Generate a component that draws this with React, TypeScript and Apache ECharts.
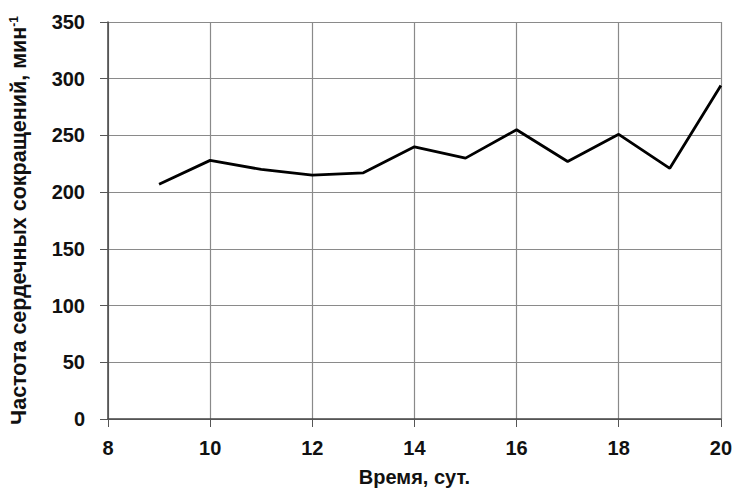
import React, { useEffect, useRef } from "react";
import * as echarts from "echarts";

// Heart rate over time (days)
const days = [9, 10, 11, 12, 13, 14, 15, 16, 17, 18, 19, 20];
const heartRate = [207, 228, 220, 215, 217, 240, 230, 255, 227, 251, 221, 294];

const xTitle = "Время, сут.";
const yTitle = "Частота сердечных сокращений, мин{sup|-1}";

const FONT = "'Liberation Sans', Arial, sans-serif";

export default function App() {
  const ref = useRef<HTMLDivElement>(null);

  useEffect(() => {
    if (!ref.current) return;
    const chart = echarts.init(ref.current, undefined, { renderer: "svg" });
    chart.setOption({
      animation: false,
      backgroundColor: "#ffffff",
      grid: { left: 108, right: 14, top: 22, bottom: 73, containLabel: false },
      xAxis: {
        type: "value",
        min: 8,
        max: 20,
        interval: 2,
        name: xTitle,
        nameLocation: "middle",
        nameGap: 48,
        nameTextStyle: { fontFamily: FONT, fontSize: 20, fontWeight: "bold", color: "#111" },
        axisLine: { show: true, lineStyle: { color: "#444", width: 1.5 } },
        axisTick: { show: true, inside: false, length: 8, lineStyle: { color: "#555" } },
        axisLabel: { fontFamily: FONT, fontSize: 20, fontWeight: "bold", color: "#111", margin: 19 },
        splitLine: { show: true, lineStyle: { color: "#8a8a8a", width: 1.2 } },
      },
      yAxis: {
        type: "value",
        min: 0,
        max: 350,
        interval: 50,
        name: yTitle,
        nameLocation: "middle",
        nameRotate: 90,
        nameGap: 78,
        nameTextStyle: {
          fontFamily: FONT,
          fontSize: 21.5,
          fontWeight: "bold",
          color: "#111",
          rich: {
            sup: { fontFamily: FONT, fontSize: 12, fontWeight: "bold", color: "#111", verticalAlign: "top", padding: [0, 0, 9, 0] },
          },
        },
        axisLine: { show: true, lineStyle: { color: "#444", width: 1.5 } },
        axisTick: { show: true, inside: false, length: 8, lineStyle: { color: "#555" } },
        axisLabel: { fontFamily: FONT, fontSize: 20, fontWeight: "bold", color: "#111", margin: 23 },
        splitLine: { show: true, lineStyle: { color: "#8a8a8a", width: 1.2 } },
      },
      series: [
        {
          type: "line",
          data: days.map((d, i) => [d, heartRate[i]]),
          showSymbol: false,
          symbol: "none",
          lineStyle: { color: "#000", width: 2.8 },
        },
      ],
    });
    return () => chart.dispose();
  }, []);

  return (
    <div
      ref={ref}
      style={{ position: "fixed", left: 0, top: 0, width: 735, height: 492, background: "#fff" }}
    />
  );
}
